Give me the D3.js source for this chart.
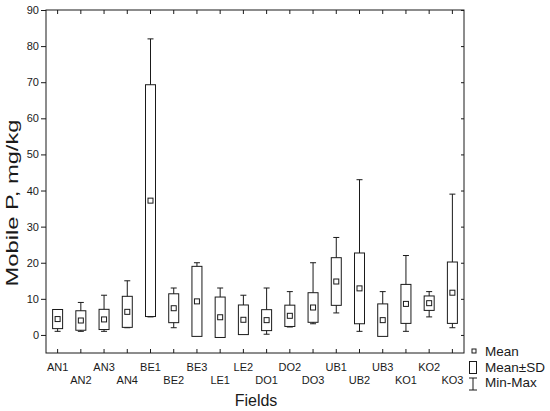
<!DOCTYPE html>
<html>
<head>
<meta charset="utf-8">
<script src="https://cdn.jsdelivr.net/npm/d3@7"></script>
<style>
  body { margin: 0; background: #fff; }
  svg { font-family: 'Liberation Sans', Arial, sans-serif; }
</style>
</head>
<body>
<div id="chart"></div>
<script>
// values (mg/kg)
const fields = ['AN1', 'AN2', 'AN3', 'AN4', 'BE1', 'BE2', 'BE3', 'LE1', 'LE2', 'DO1', 'DO2', 'DO3', 'UB1', 'UB2', 'UB3', 'KO1', 'KO2', 'KO3'];
const means = [4.4, 4.0, 4.3, 6.4, 37.2, 7.4, 9.3, 4.9, 4.2, 4.1, 5.3, 7.6, 14.8, 12.9, 4.1, 8.6, 8.8, 11.7];
const sds = [2.65, 2.7, 2.8, 4.3, 32.1, 4.0, 9.7, 5.6, 4.1, 2.9, 2.95, 4.1, 6.6, 9.8, 4.5, 5.4, 2.0, 8.5];
const mins = [1.0, 1.0, 1.0, 2.0, 5.0, 2.0, 0.0, 0.0, 0.5, 0.2, 2.2, 3.1, 6.1, 1.0, 0.5, 1.0, 5.0, 2.0];
const maxs = [7.0, 9.0, 11.0, 15.0, 82.0, 13.0, 20.0, 13.0, 11.0, 13.0, 12.0, 20.0, 27.0, 43.0, 12.0, 22.0, 12.0, 39.0];
const yTicks = [0, 10, 20, 30, 40, 50, 60, 70, 80, 90];

const width = 550;
const height = 411;
const margin = { top: 10, right: 86, bottom: 58, left: 46 };
const ink = '#1a1a1a';

const svg = d3.select('#chart').append('svg').attr('width', width).attr('height', height);

const x = d3.scaleBand().domain(fields).range([margin.left, width - margin.right]).padding(0);
const y = d3.scaleLinear().domain([-5, 90]).range([height - margin.bottom, margin.top]);
const cx = (f) => x(f) + x.bandwidth() / 2;

// axes
svg.append('g')
  .attr('transform', `translate(${margin.left},0)`)
  .call(d3.axisLeft(y).tickValues(yTicks).tickSize(5).tickSizeOuter(0).tickPadding(2))
  .call((g) => g.select('.domain').remove())
  .call((g) => g.selectAll('line').attr('stroke', ink))
  .call((g) => g.selectAll('text').attr('font-size', 11).attr('fill', ink).attr('font-family', null));

svg.append('g')
  .attr('transform', `translate(${width - margin.right},0)`)
  .call(d3.axisRight(y).tickValues(yTicks).tickSize(-3).tickFormat(''))
  .call((g) => g.select('.domain').remove())
  .call((g) => g.selectAll('line').attr('stroke', ink));

svg.append('g')
  .attr('transform', `translate(0,${margin.top})`)
  .call(d3.axisTop(x).tickSize(-4).tickFormat(''))
  .call((g) => g.select('.domain').remove())
  .call((g) => g.selectAll('line').attr('stroke', ink));

svg.append('g')
  .attr('transform', `translate(0,${height - margin.bottom})`)
  .call(d3.axisBottom(x).tickSize(-4))
  .call((g) => g.select('.domain').remove())
  .call((g) => g.selectAll('line').attr('stroke', ink))
  .call((g) =>
    g.selectAll('text')
      .attr('font-size', 11)
      .attr('font-family', null)
      .attr('fill', ink)
      .attr('dy', null)
      .attr('y', (d, i) => (i % 2 === 0 ? 17.5 : 31))
  );

// frame
svg.append('rect')
  .attr('x', margin.left)
  .attr('y', margin.top)
  .attr('width', width - margin.left - margin.right)
  .attr('height', height - margin.top - margin.bottom)
  .attr('fill', 'none')
  .attr('stroke', ink);

// boxes
const boxW = 10;
const capW = 6;
const mk = 5;
const g = svg.append('g').attr('stroke', ink).attr('fill', '#fff');

const item = g.selectAll('g').data(fields).join('g');

item.append('line')
  .attr('x1', (d) => cx(d)).attr('x2', (d) => cx(d))
  .attr('y1', (d, i) => y(maxs[i])).attr('y2', (d, i) => y(mins[i]));
item.append('line')
  .attr('x1', (d) => cx(d) - capW / 2).attr('x2', (d) => cx(d) + capW / 2)
  .attr('y1', (d, i) => y(maxs[i])).attr('y2', (d, i) => y(maxs[i]));
item.append('line')
  .attr('x1', (d) => cx(d) - capW / 2).attr('x2', (d) => cx(d) + capW / 2)
  .attr('y1', (d, i) => y(mins[i])).attr('y2', (d, i) => y(mins[i]));
item.append('rect')
  .attr('x', (d) => cx(d) - boxW / 2)
  .attr('width', boxW)
  .attr('y', (d, i) => y(means[i] + sds[i]))
  .attr('height', (d, i) => y(means[i] - sds[i]) - y(means[i] + sds[i]));
item.append('rect')
  .attr('x', (d) => cx(d) - mk / 2)
  .attr('y', (d, i) => y(means[i]) - mk / 2)
  .attr('width', mk)
  .attr('height', mk);

// axis titles
svg.append('text')
  .attr('transform', 'translate(18,203) rotate(-90)')
  .attr('text-anchor', 'middle')
  .attr('font-size', 16)
  .attr('fill', ink)
  .attr('textLength', 167)
  .attr('lengthAdjust', 'spacingAndGlyphs')
  .text('Mobile P, mg/kg');

svg.append('text')
  .attr('x', 256)
  .attr('y', 406)
  .attr('text-anchor', 'middle')
  .attr('font-size', 16)
  .attr('fill', ink)
  .text('Fields');

// legend
const lg = svg.append('g').attr('stroke', ink).attr('fill', '#fff');
lg.append('rect').attr('x', 472).attr('y', 349).attr('width', 4).attr('height', 4);
lg.append('rect').attr('x', 469.5).attr('y', 361.5).attr('width', 7).attr('height', 12);
lg.append('line').attr('x1', 473).attr('x2', 473).attr('y1', 378).attr('y2', 390);
lg.append('line').attr('x1', 469).attr('x2', 477).attr('y1', 378).attr('y2', 378);
lg.append('line').attr('x1', 469).attr('x2', 477).attr('y1', 390).attr('y2', 390);

const legendText = ['Mean', 'Mean±SD', 'Min-Max'];
svg.append('g')
  .selectAll('text')
  .data(legendText)
  .join('text')
  .attr('x', 485)
  .attr('y', (d, i) => 356 + i * 15.5)
  .attr('font-size', 13.5)
  .attr('fill', ink)
  .text((d) => d);
</script>
</body>
</html>
